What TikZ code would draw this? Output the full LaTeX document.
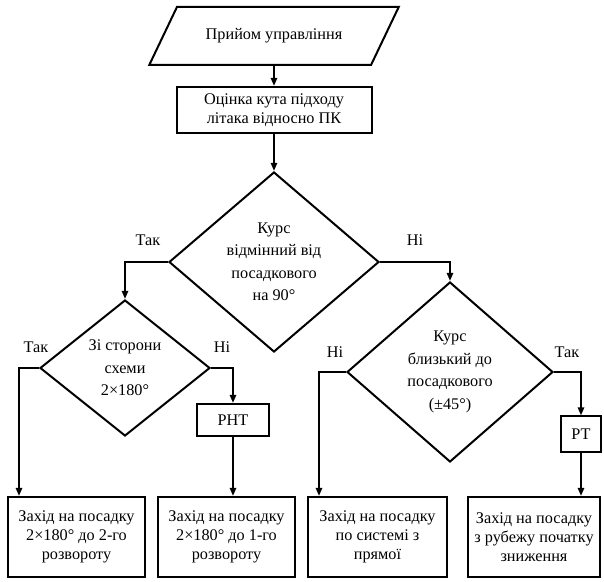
\documentclass[tikz,border=0pt]{standalone}
\usepackage{fontspec}
\setmainfont{Liberation Serif}
\usetikzlibrary{positioning,arrows.meta,shapes.geometric}

\tikzset{
  box/.style={draw, line width=1.6pt, align=center, inner sep=2pt},
  cond/.style={diamond, draw, line width=1.6pt, align=center, inner sep=0pt,
    font=\fontsize{13}{18}\selectfont},
  flow/.style={line width=1.6pt, -{Triangle[length=6.5pt,width=5pt]}},
  lbl/.style={inner sep=0pt}
}

\begin{document}
\begin{tikzpicture}[x=0.8pt,y=-0.8pt,font=\fontsize{13}{15}\selectfont]
  \useasboundingbox (0,0) rectangle (604,582);
  % start and estimate
  \node[trapezium, trapezium left angle=48, trapezium right angle=132,
    trapezium stretches=true, draw, line width=1.6pt,
    minimum width=200pt, minimum height=46.4pt] (start) at (274,36) {Прийом управління};
  \node[box, minimum width=156pt, minimum height=36.8pt] (est) at (274,110)
    {Оцінка кута підходу\\літака відносно ПК};
  % decisions
  \node[cond, minimum width=168pt, minimum height=144pt] (d1) at (274,262)
    {Курс\\відмінний від\\посадкового\\на 90°};
  \node[cond, minimum width=136pt, minimum height=108.8pt] (d2) at (125,368)
    {Зі сторони\\схеми\\2×180°};
  \node[cond, minimum width=164.8pt, minimum height=144pt] (d3) at (450,372)
    {Курс\\близький до\\посадкового\\(±45°)};
  \node[box, minimum width=57pt, minimum height=25.6pt] (rnt) at (233,420) {РНТ};
  \node[box, minimum width=32pt, minimum height=28pt] (rt) at (581,434) {РТ};
  % approach variants
  \foreach \n/\x/\w/\t in {
      b1/76.5/109.6pt/{Захід на посадку\\2×180° до 2-го\\розвороту},
      b2/226.5/109.6pt/{Захід на посадку\\2×180° до 1-го\\розвороту},
      b3/377.5/111.2pt/{Захід на посадку\\по системі з\\прямої},
      b4/534/105.6pt/{Захід на посадку\\з рубежу початку\\зниження}} {
    \node[box, minimum width=\w, minimum height=64pt] (\n) at (\x,537) {\t};
  }
  % connectors
  \draw[flow] (start) -- (est);
  \draw[flow] (est) -- (d1);
  \draw[flow] (d1.west) -| (d2.north);
  \draw[flow] (d1.east) -| (d3.north);
  \draw[flow] (d2.west) -| ([xshift=9.6pt]b1.north west);
  \draw[flow] (d2.east) -| (rnt.north);
  \draw[flow] (rnt.south) -- (rnt.south |- b2.north);
  \draw[flow] (d3.west) -| ([xshift=9.6pt]b3.north west);
  \draw[flow] (d3.east) -| (rt.north);
  \draw[flow] (rt.south) -- (rt.south |- b4.north);
  % branch labels
  \node[lbl] (yes1) at (148,240) {Так};
  \node[lbl] (no1) at (415,240) {Ні};
  \node[lbl] (yes2) at (36,347) {Так};
  \node[lbl] (no2) at (222,347) {Ні};
  \node[lbl] (no3) at (335,352) {Ні};
  \node[lbl] (yes3) at (567,352) {Так};
\end{tikzpicture}
\end{document}
